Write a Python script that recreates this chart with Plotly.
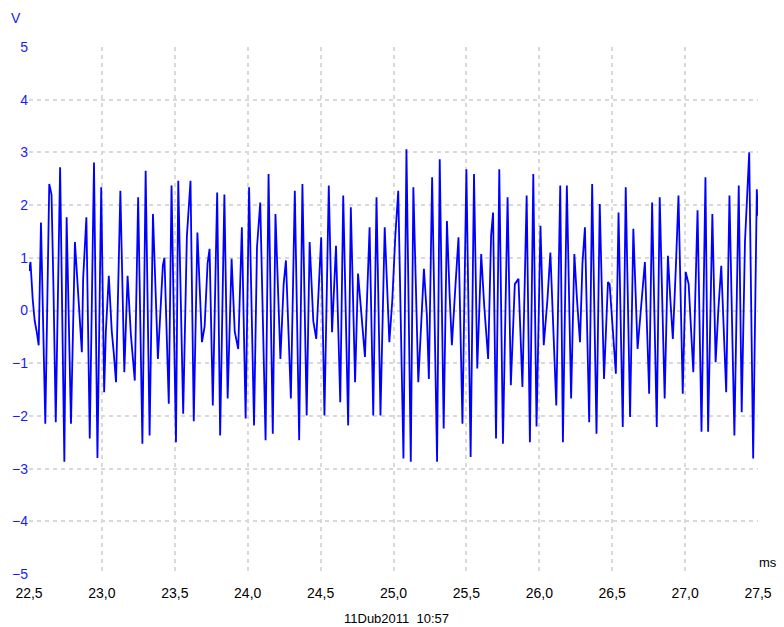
import plotly.graph_objects as go

# time (ms) of signal turning points
t_ms = [
    22.5000, 22.5102, 22.5257, 22.5393, 22.5528, 22.5664, 22.5820, 22.6118, 22.6389, 22.6545,
    22.6680, 22.6836, 22.7134, 22.7425, 22.7581, 22.7879, 22.8150, 22.8327, 22.8489, 22.8625,
    22.8713, 22.8936, 22.9167, 22.9458, 22.9695,
    22.9953, 23.0156, 23.0271, 23.0474, 23.0678, 23.0813, 23.0969, 23.1267, 23.1538, 23.1762,
    23.1985, 23.2256, 23.2486, 23.2778, 23.3001, 23.3272, 23.3503, 23.3679, 23.3841, 23.4180,
    23.4289, 23.4587, 23.4776,
    23.5081, 23.5237, 23.5576, 23.5827, 23.6077, 23.6301, 23.6551, 23.6707, 23.6863, 23.7046,
    23.7249, 23.7385, 23.7608, 23.7907, 23.8110, 23.8401, 23.8625, 23.8896, 23.9112, 23.9350,
    23.9600, 23.9858,
    24.0095, 24.0434, 24.0637, 24.0860, 24.1226, 24.1430, 24.1721, 24.1904, 24.2060, 24.2243,
    24.2466, 24.2622, 24.2961, 24.3232, 24.3530, 24.3753, 24.4045, 24.4248, 24.4499, 24.4702,
    24.5041, 24.5264, 24.5562, 24.5786, 24.6057, 24.6348, 24.6552, 24.6890, 24.7073, 24.7365,
    24.7568, 24.7819, 24.8042, 24.8360, 24.8611, 24.8835, 24.9106, 24.9397, 24.9580, 24.9716,
    24.9919, 25.0122, 25.0325, 25.0684, 25.0888, 25.1186, 25.1362, 25.1701, 25.2087, 25.2290,
    25.2426, 25.2649, 25.2988, 25.3171, 25.3442, 25.3665, 25.3848, 25.4004, 25.4255, 25.4458,
    25.4729,
    25.5000, 25.5291, 25.5522, 25.5745, 25.6016, 25.6220, 25.6491, 25.6694, 25.6829, 25.7032,
    25.7256, 25.7507, 25.7825, 25.8049, 25.8320, 25.8571, 25.8842, 25.9133, 25.9356, 25.9587,
    25.9810,
    26.0081, 26.0305, 26.0556, 26.0759, 26.1165, 26.1436, 26.1619, 26.1890, 26.2182, 26.2405,
    26.2588, 26.2791, 26.2961, 26.3130, 26.3422, 26.3625, 26.3923, 26.4146, 26.4438, 26.4709,
    26.4824,
    26.5251, 26.5434, 26.5725, 26.5928, 26.6227, 26.6450, 26.6586, 26.6741, 26.6992, 26.7243,
    26.7534, 26.7737, 26.8056, 26.8259, 26.8598, 26.8821, 26.8991, 26.9160, 26.9363, 26.9546,
    26.9838,
    27.0041, 27.0244, 27.0563, 27.0854, 27.1125, 27.1396, 27.1579, 27.1870, 27.2094, 27.2277,
    27.2480, 27.2819, 27.3042, 27.3381, 27.3679, 27.3882, 27.4106, 27.4397, 27.4668, 27.4919,
    27.4986,
]

# voltage (V) at those points
volts = [
    0.75, 0.92, 0.20, -0.20, -0.40, -0.66, 1.67, -2.15, 2.40, 2.20,
    0.40, -2.12, 2.72, -2.87, 1.77, -2.15, 1.30, 0.50, -0.35, -0.79,
    0.60, 1.77, -2.43, 2.81, -2.80,
    2.34, -1.55, -0.40, 0.66, -0.40, -0.80, -1.36, 2.27, -1.17, 0.66,
    -0.45, -1.33, 2.15, -2.53, 2.65, -2.37, 1.83, 0.40, -0.92, 0.85,
    1.00, -1.77, 2.37,
    -2.50, 2.46, -1.96, 1.40, 2.46, -2.10, 1.48, 0.30, -0.60, -0.30,
    0.90, 1.17, -1.80, 2.24, -2.37, 2.20, -1.67, 0.98, -0.40, -0.73,
    1.58, -2.05,
    2.34, -2.18, 1.20, 2.05, -2.46, 2.59, -2.34, 1.83, 0.40, -0.92,
    0.50, 0.95, -1.67, 2.27, -2.46, 2.40, -1.99, 1.30, -0.20, -0.54,
    1.39, -1.99, 2.37, -0.41, 1.23, -1.74, 2.18, -2.18, 1.96, -1.36,
    0.70, -0.20, -0.88, 1.58, -1.99, 2.15, -1.99, 1.58, 0.20, -0.60,
    0.20, 1.40, 2.27, -2.81, 3.06, -2.87, 2.34, -1.36, 0.79, -0.10,
    -1.30, 2.53, -2.87, 2.87, -2.24, 1.70, 0.30, -0.66, 0.50, 1.39,
    -2.15,
    2.68, -2.78, 2.59, -1.10, 1.07, 0.10, -0.92, 1.42, 1.86, -2.43,
    2.68, -2.53, 2.15, -1.42, 0.50, 0.60, -1.45, 2.18, -2.50, 2.59,
    -2.20,
    1.61, -0.66, 0.20, 1.10, -1.80, 2.37, -2.50, 2.37, -1.67, 1.07,
    0.20, -0.60, 0.90, 1.58, -2.12, 2.40, -2.34, 2.02, -1.30, 0.54,
    0.50,
    -1.20, 1.86, -2.21, 2.34, -2.02, 1.55, 0.30, -0.73, 0.10, 0.92,
    -1.58, 2.05, -2.21, 2.15, -1.67, 1.04, 0.20, -0.54, 0.80, 2.18,
    -1.58,
    0.73, 0.50, -1.17, 1.90, -2.30, 2.53, -2.30, 1.83, -0.98, 0.00,
    0.85, -1.55, 2.18, -2.37, 2.37, -1.93, 1.30, 3.00, -2.81, 2.30,
    1.80,
]

x_range = [22.5, 27.5]
y_range = [-5, 5]
x_unit = "ms"
y_unit = "V"
stamp = "11Dub2011  10:57"

FONT = "Liberation Sans, Arial, sans-serif"
BLUE = "#1a1aff"
GRID = "#d9d9d9"

fig = go.Figure()
fig.add_trace(go.Scatter(
    x=t_ms, y=volts, mode="lines",
    line=dict(color="#0000ff", width=1.8),
    hoverinfo="skip", showlegend=False,
))

fig.update_layout(
    width=784, height=627,
    margin=dict(l=25, r=21, t=47, b=53, pad=0),
    paper_bgcolor="white", plot_bgcolor="white",
    separators=",.",
    font=dict(family=FONT, size=14, color="black"),
    xaxis=dict(
        range=x_range, tick0=22.5, dtick=0.5, tickformat=".1f",
        showgrid=True, gridcolor=GRID, gridwidth=1.5, griddash="4px,4px",
        zeroline=False, showline=False, ticks="",
        tickfont=dict(family=FONT, size=14, color="black"),
        ticklabelstandoff=9,
    ),
    yaxis=dict(
        range=y_range, tick0=-5, dtick=1,
        showgrid=True, gridcolor=GRID, gridwidth=1.5, griddash="4px,4px",
        zeroline=False, showline=False, ticks="",
        tickfont=dict(family=FONT, size=14, color=BLUE),
    ),
    annotations=[
        dict(text=y_unit, xref="paper", yref="paper", x=-0.0176, y=1.055,
             xanchor="center", yanchor="middle",
             showarrow=False, font=dict(family=FONT, size=14, color=BLUE)),
        dict(text=x_unit, xref="paper", yref="paper", x=1.014, y=0.021,
             xanchor="center", yanchor="middle",
             showarrow=False, font=dict(family=FONT, size=13, color="black")),
        dict(text=stamp, xref="paper", yref="paper", x=0.504, y=-0.085,
             xanchor="center", yanchor="middle",
             showarrow=False, font=dict(family=FONT, size=13, color="black")),
    ],
)

fig.write_html("out.html")
